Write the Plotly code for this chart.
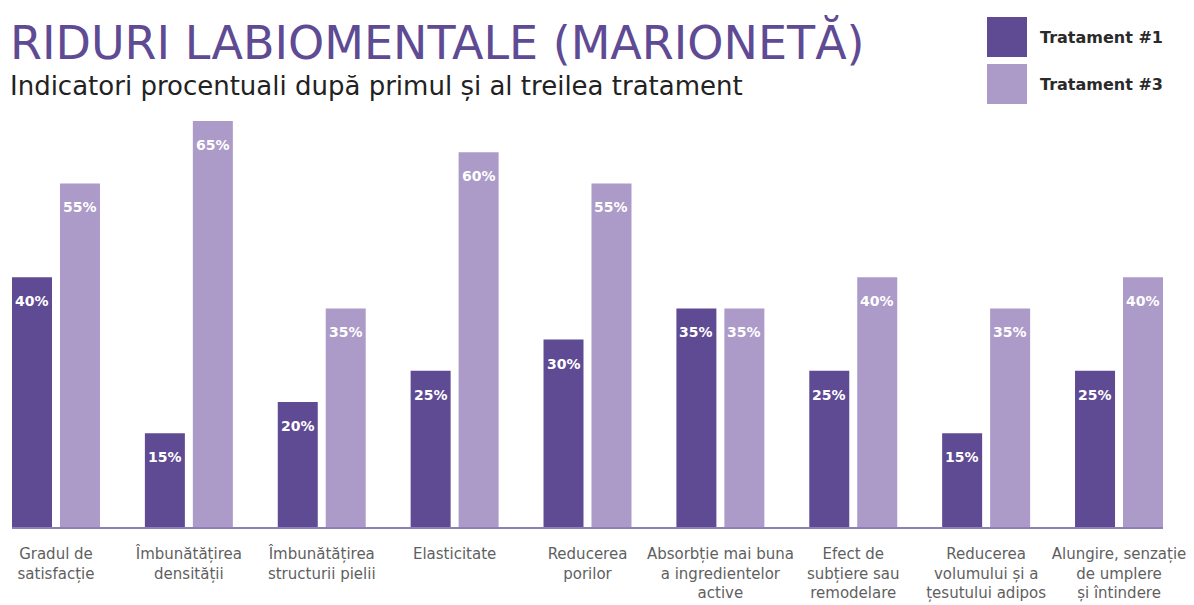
import plotly.graph_objects as go

categories = [
    "Gradul de<br>satisfacție",
    "Îmbunătățirea<br>densității",
    "Îmbunătățirea<br>structurii pielii",
    "Elasticitate",
    "Reducerea<br>porilor",
    "Absorbție mai buna<br>a ingredientelor<br>active",
    "Efect de<br>subțiere sau<br>remodelare",
    "Reducerea<br>volumului și a<br>țesutului adipos",
    "Alungire, senzație<br>de umplere<br>și întindere",
]
tratament1 = [40, 15, 20, 25, 30, 35, 25, 15, 25]
tratament3 = [55, 65, 35, 60, 55, 35, 40, 35, 40]
series_names = ["Tratament #1", "Tratament #3"]

DARK = "#5F4A94"
LIGHT = "#AC9AC9"
FONT = "DejaVu Sans"

# page body has an 8px default margin; work in screen pixels and compensate
OFF = 8
W, H = 1194 - OFF, 605 - OFF
ML, MR, MT, MB = 12 - OFF, 31, 121 - OFF, 78
PW, PH = W - ML - MR, H - MT - MB


def px_x(px):
    return (px - OFF - ML) / PW


def px_y(py):
    return (H - MB - (py - OFF)) / PH


xpos = list(range(len(categories)))
bar_w = 0.301
offsets = [-0.331, 0.030]

fig = go.Figure()
for vals, name, color, off in [(tratament1, series_names[0], DARK, offsets[0]),
                               (tratament3, series_names[1], LIGHT, offsets[1])]:
    fig.add_trace(go.Bar(
        x=xpos, y=vals, name=name, marker=dict(color=color, line=dict(width=0)),
        width=bar_w, offset=off, showlegend=False, hoverinfo="skip",
    ))
    for xi, v in zip(xpos, vals):
        fig.add_annotation(
            x=xi + off + bar_w / 2, y=v, xref="x", yref="y",
            text=f"<b>{v}%</b>", showarrow=False, yanchor="top", yshift=-14,
            font=dict(family=FONT, size=14, color="white"),
        )

fig.update_layout(
    width=W, height=H,
    margin=dict(l=ML, r=MR, t=MT, b=MB, autoexpand=False),
    paper_bgcolor="white", plot_bgcolor="white",
    barmode="overlay",
    xaxis=dict(
        range=[-0.331, len(categories) - 1 + 0.331],
        tickmode="array", tickvals=xpos, ticktext=categories,
        showgrid=False, zeroline=False, showline=True, linecolor="#8E7FB8", linewidth=2,
        ticks="", ticklabelstandoff=12, automargin=False,
        tickfont=dict(family=FONT, size=15, color="#5f5f5f"),
    ),
    yaxis=dict(range=[0, 65], visible=False, showgrid=False, zeroline=False, automargin=False),
    showlegend=False,
)

# Title and subtitle
fig.add_annotation(
    xref="paper", yref="paper", x=px_x(8), y=px_y(42), xanchor="left", yanchor="middle",
    text="RIDURI LABIOMENTALE (MARIONETĂ)", showarrow=False,
    font=dict(family=FONT, size=46, color=DARK),
)
fig.add_annotation(
    xref="paper", yref="paper", x=px_x(8), y=px_y(86), xanchor="left", yanchor="middle",
    text="Indicatori procentuali după primul și al treilea tratament", showarrow=False,
    font=dict(family=FONT, size=26, color="#222222"),
)

# Legend (custom large swatches)
for i, (name, color) in enumerate(zip(series_names, [DARK, LIGHT])):
    top = 17 + i * 47
    fig.add_shape(type="rect", xref="paper", yref="paper",
                  x0=px_x(987), x1=px_x(1027),
                  y0=px_y(top + 40), y1=px_y(top),
                  fillcolor=color, line=dict(width=0))
    fig.add_annotation(xref="paper", yref="paper", x=px_x(1038),
                       y=px_y(top + 20), xanchor="left", yanchor="middle",
                       text=f"<b>{name}</b>", showarrow=False,
                       font=dict(family=FONT, size=16, color="#2a2a2a"))

fig.write_html("out.html")
